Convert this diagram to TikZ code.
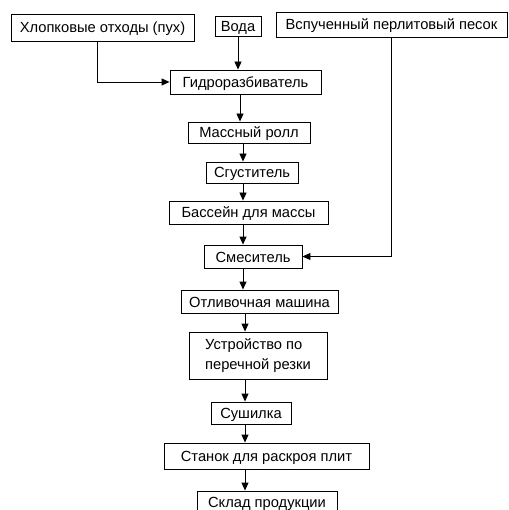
\documentclass[tikz,border=0pt]{standalone}
\usepackage{fontspec}
\setmainfont{Liberation Sans}
\usetikzlibrary{arrows.meta}
\begin{document}
\begin{tikzpicture}[x=1pt,y=-1pt,
  box/.style={draw=black,line width=0.9pt,inner sep=0pt,text height=12pt,text depth=1pt,font=\fontsize{14.7}{19.5}\selectfont},
  arr/.style={draw=black,line width=0.9pt,-{Triangle[length=8pt,width=7pt]}}]
\useasboundingbox (0,0) rectangle (508,510);
\node[box,minimum width=183,minimum height=27] (A) at (102.5,27.5) {Хлопковые отходы (пух)};
\node[box,minimum width=46,minimum height=20] (B) at (238,26) {Вода};
\node[box,minimum width=231,minimum height=25] (C) at (391.5,24.5) {Вспученный перлитовый песок};
\node[box,minimum width=151,minimum height=24] (D) at (245.5,82) {Гидроразбиватель};
\node[box,minimum width=122,minimum height=21] (E) at (249,132.5) {Массный ролл};
\node[box,minimum width=92,minimum height=21] (F) at (252,172.5) {Сгуститель};
\node[box,minimum width=159,minimum height=23] (G) at (248.5,212.5) {Бассейн для массы};
\node[box,minimum width=98,minimum height=23] (H) at (253,256.5) {Смеситель};
\node[box,minimum width=157,minimum height=23] (I) at (259.5,301.5) {Отливочная машина};
\node[box,minimum width=138,minimum height=47,align=left,text height=,text depth=] (J) at (258,355.5) {Устройство по\\перечной резки};
\node[box,minimum width=80,minimum height=22] (K) at (251,413) {Сушилка};
\node[box,minimum width=205,minimum height=26] (L) at (266.5,456) {Станок для раскроя плит};
\node[box,minimum width=140,minimum height=22] (M) at (267,502) {Склад продукции};
\coordinate (P) at (97,0);
\coordinate (X1) at (240,0);
\coordinate (X) at (243,0);
\coordinate (Y) at (245,0);
\draw[arr] (A.south -| P) |- (D.west);
\draw[arr] (B.south) -- (B.south |- D.north);
\draw[arr] (C.south) |- (H.east);
\draw[arr] (D.south -| X1) -- (E.north -| X1);
\draw[arr] (E.south -| X) -- (F.north -| X);
\draw[arr] (F.south -| X) -- (G.north -| X);
\draw[arr] (G.south -| X) -- (H.north -| X);
\draw[arr] (H.south -| X) -- (I.north -| X);
\draw[arr] (I.south -| Y) -- (J.north -| Y);
\draw[arr] (J.south -| Y) -- (K.north -| Y);
\draw[arr] (K.south -| Y) -- (L.north -| Y);
\draw[arr] (L.south -| Y) -- (M.north -| Y);
\end{tikzpicture}
\end{document}
